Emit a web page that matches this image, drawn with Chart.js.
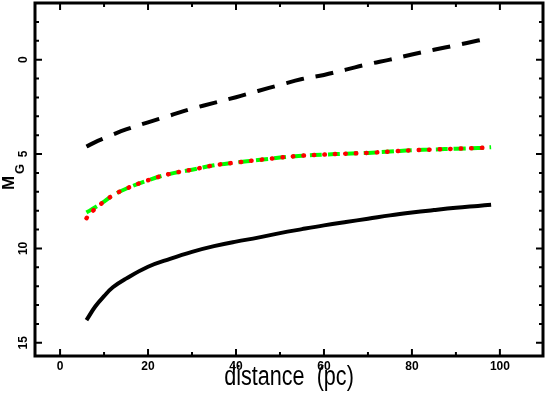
<!DOCTYPE html>
<html>
<head>
<meta charset="utf-8">
<script src="https://cdn.jsdelivr.net/npm/chart.js@4.4.0/dist/chart.umd.min.js"></script>
<style>
  body { margin: 0; background: #fff; }
  canvas { display: block; }
</style>
</head>
<body>
<canvas id="chart" width="545" height="393"></canvas>
<script>
// distances (pc) sampled along the curves
const distance = [6, 8, 10, 12, 15, 20, 25, 30, 35, 40, 45, 50, 55, 60, 65, 70, 75, 80, 85, 90, 95, 98];

// black solid curve
const faintLimit = [13.8, 13.08, 12.53, 12.06, 11.6, 10.97, 10.55, 10.18, 9.88, 9.64, 9.43, 9.19, 8.98, 8.78, 8.6, 8.43, 8.25, 8.1, 7.97, 7.85, 7.75, 7.69];
// black dashed curve
const brightLimit = [4.6, 4.37, 4.17, 3.97, 3.7, 3.32, 2.96, 2.6, 2.29, 1.99, 1.66, 1.34, 1.03, 0.81, 0.53, 0.24, 0.0, -0.27, -0.52, -0.76, -1.01, -1.15];
// green dashed curve
const greenCurve = [8.1, 7.82, 7.52, 7.19, 6.84, 6.39, 6.05, 5.83, 5.6, 5.45, 5.32, 5.19, 5.09, 5.03, 4.98, 4.94, 4.87, 4.8, 4.76, 4.72, 4.68, 4.64];
// red dotted curve
const redCurve = [8.4, 7.89, 7.52, 7.19, 6.84, 6.39, 6.05, 5.83, 5.6, 5.45, 5.32, 5.19, 5.09, 5.03, 4.98, 4.94, 4.87, 4.8, 4.76, 4.72, 4.68, 4.64];

const xTicks = [0, 20, 40, 60, 80, 100];
const yTicks = [0, 5, 10, 15];

function pts(ys) {
    return distance.map((d, i) => ({ x: d, y: ys[i] }));
}

// frame, inward ticks on all four sides, labels and titles
const framePlugin = {
    id: 'frame',
    beforeDraw(chart) {
        const ctx = chart.ctx;
        ctx.save();
        ctx.fillStyle = '#fff';
        ctx.fillRect(0, 0, chart.width, chart.height);
        ctx.restore();
    },
    afterDraw(chart) {
        const { ctx, chartArea: a, scales: { x, y } } = chart;
        ctx.save();
        ctx.strokeStyle = '#000';
        ctx.fillStyle = '#000';

        // ticks
        ctx.lineWidth = 2;
        ctx.beginPath();
        for (let v = 0; v <= x.max; v += 10) {
            const px = x.getPixelForValue(v);
            const len = v % 20 === 0 ? 7 : 4;
            ctx.moveTo(px, a.bottom); ctx.lineTo(px, a.bottom - len);
            ctx.moveTo(px, a.top); ctx.lineTo(px, a.top + len);
        }
        for (let v = Math.ceil(y.min); v <= y.max; v += 1) {
            const py = y.getPixelForValue(v);
            const len = v % 5 === 0 ? 7 : 4;
            ctx.moveTo(a.left, py); ctx.lineTo(a.left + len, py);
            ctx.moveTo(a.right, py); ctx.lineTo(a.right - len, py);
        }
        ctx.stroke();

        // frame
        ctx.lineWidth = 3;
        ctx.strokeRect(a.left, a.top, a.right - a.left, a.bottom - a.top);

        // x tick labels
        ctx.font = 'bold 12px "Liberation Sans", Arial, sans-serif';
        ctx.textAlign = 'center';
        ctx.textBaseline = 'top';
        xTicks.forEach(v => {
            ctx.fillText(String(v), x.getPixelForValue(v), a.bottom + 5);
        });

        // y tick labels, rotated
        ctx.textBaseline = 'alphabetic';
        yTicks.forEach(v => {
            ctx.save();
            ctx.translate(a.left - 8, y.getPixelForValue(v));
            ctx.rotate(-Math.PI / 2);
            ctx.fillText(String(v), 0, 0);
            ctx.restore();
        });

        // x title, narrowed
        ctx.save();
        ctx.translate((a.left + a.right) / 2, 385);
        ctx.scale(0.8, 1);
        ctx.font = '27px "Liberation Sans", Arial, sans-serif';
        ctx.textAlign = 'center';
        ctx.fillText('distance  (pc)', 0, 0);
        ctx.restore();

        // y title M_G
        ctx.save();
        ctx.translate(14, 190);
        ctx.rotate(-Math.PI / 2);
        ctx.textAlign = 'left';
        ctx.font = 'bold 17px "Liberation Sans", Arial, sans-serif';
        ctx.fillText('M', 0, 0);
        ctx.font = 'bold 13px "Liberation Sans", Arial, sans-serif';
        ctx.fillText('G', 16, 10);
        ctx.restore();

        ctx.restore();
    }
};

const ctx = document.getElementById('chart').getContext('2d');
const chart = new Chart(ctx, {
    type: 'line',
    data: {
        datasets: [
            {
                label: 'red',
                data: pts(redCurve),
                borderColor: '#ff0000',
                borderWidth: 4.5,
                borderDash: [0.5, 10],
                borderCapStyle: 'round',
                order: 0
            },
            {
                label: 'green',
                data: pts(greenCurve),
                borderColor: '#00ff00',
                borderWidth: 4,
                borderDash: [12, 6],
                order: 1
            },
            {
                label: 'bright',
                data: pts(brightLimit),
                borderColor: '#000',
                borderWidth: 4,
                borderDash: [18, 12],
                order: 2
            },
            {
                label: 'faint',
                data: pts(faintLimit),
                borderColor: '#000',
                borderWidth: 4,
                order: 3
            }
        ]
    },
    options: {
        responsive: false,
        animation: false,
        layout: { padding: { top: 3, right: 2, left: 0, bottom: 0 } },
        elements: {
            point: { radius: 0 },
            line: { tension: 0.4, fill: false }
        },
        plugins: {
            legend: { display: false },
            tooltip: { enabled: false }
        },
        scales: {
            x: {
                type: 'linear',
                min: -5.7,
                max: 109.8,
                grid: { display: false },
                border: { display: false },
                ticks: { display: false },
                afterFit(scale) { scale.height = 37; }
            },
            y: {
                type: 'linear',
                reverse: true,
                min: -3,
                max: 15.7,
                grid: { display: false },
                border: { display: false },
                ticks: { display: false },
                afterFit(scale) { scale.width = 35; }
            }
        }
    },
    plugins: [framePlugin]
});
</script>
</body>
</html>
